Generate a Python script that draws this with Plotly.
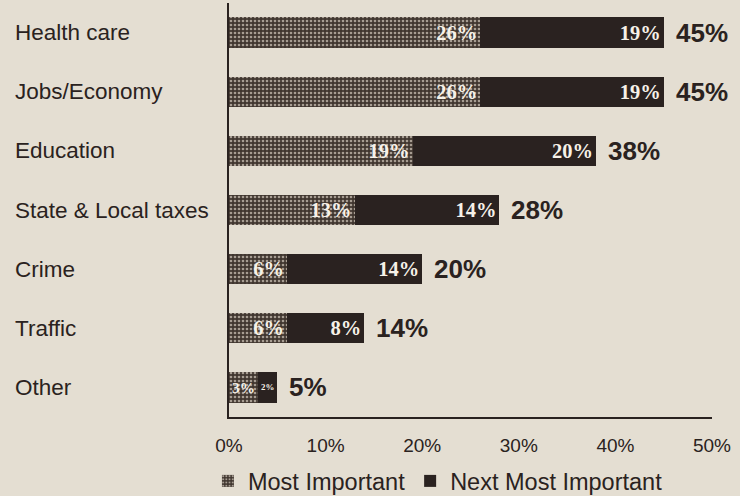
import plotly.graph_objects as go
import numpy as np

categories = ["Health care", "Jobs/Economy", "Education", "State & Local taxes",
              "Crime", "Traffic", "Other"]
most_important = [26, 26, 19, 13, 6, 6, 3]
next_labels = [19, 19, 20, 14, 14, 8, 2]
totals = [45, 45, 38, 28, 20, 14, 5]
tick_vals = [0, 10, 20, 30, 40, 50]
tick_text = ["0%", "10%", "20%", "30%", "40%", "50%"]

BG = "#e4ded2"
INK = "#2a2220"

# bar lengths: the dark segment fills up to the printed total
next_len = list(np.array(totals) - np.array(most_important))

fig = go.Figure()
fig.add_trace(go.Bar(
    y=categories, x=most_important, orientation="h", name="Most Important",
    text=[f"{v}%" for v in most_important], textposition="inside",
    insidetextanchor="end", textangle=0,
    textfont=dict(family="Liberation Serif", size=20.5, color="#f6f1e8", weight="bold"),
    marker=dict(color="#4a403b", line=dict(width=0),
                pattern=dict(shape=".", bgcolor="#40362f", fgcolor="#a79d92",
                             size=4, solidity=0.35, fillmode="replace")),
    width=0.51, hoverinfo="skip",
))
fig.add_trace(go.Bar(
    y=categories, x=next_len, orientation="h", name="Next Most Important",
    text=[f"{v}%" for v in next_labels], textposition="inside",
    insidetextanchor="end", textangle=0,
    textfont=dict(family="Liberation Serif", size=20.5, color="#f6f1e8", weight="bold"),
    marker=dict(color=INK, line=dict(width=0)),
    width=0.51, hoverinfo="skip",
))

for c, t in zip(categories, totals):
    fig.add_annotation(x=t, y=c, xref="x", yref="y", text=f"{t}%",
                       showarrow=False, xanchor="left", xshift=10,
                       font=dict(family="Liberation Sans", size=26, color=INK, weight="bold"))
    fig.add_annotation(x=0, y=c, xref="paper", yref="y", text=c,
                       showarrow=False, xanchor="left", xshift=-216,
                       font=dict(family="Liberation Sans", size=22.5, color=INK))

fig.update_layout(
    width=740, height=496,
    margin=dict(l=229, r=28, t=3, b=79, autoexpand=False),
    paper_bgcolor=BG, plot_bgcolor=BG,
    barmode="stack", bargap=0.49,
    showlegend=True,
    legend=dict(orientation="h", xref="container", yref="container",
                x=0.281, xanchor="left", y=0.03, yanchor="middle",
                traceorder="normal", font=dict(family="Liberation Sans", size=23.5, color=INK),
                bgcolor="rgba(0,0,0,0)", itemsizing="constant"),
    xaxis=dict(range=[0, 50], tickvals=tick_vals, ticktext=tick_text,
               showgrid=False, zeroline=False, showline=True, linecolor=INK, linewidth=2,
               ticks="", ticklabelstandoff=10,
               tickfont=dict(family="Liberation Sans", size=19, color=INK),
               fixedrange=True),
    yaxis=dict(autorange="reversed", showticklabels=False, showgrid=False,
               zeroline=False, showline=True, linecolor=INK, linewidth=2, ticks="",
               fixedrange=True),
)

fig.write_html("out.html", config={"displayModeBar": False},
               post_script="document.body.style.margin='0';")
